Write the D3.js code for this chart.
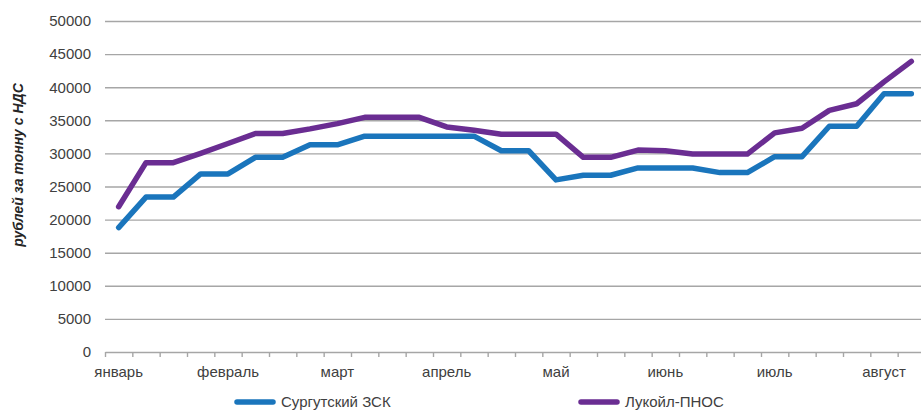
<!DOCTYPE html>
<html lang="ru">
<head>
  <meta charset="UTF-8">
  <title>Цены на топливо</title>
  <script src="https://d3js.org/d3.v7.min.js"></script>
  <style>
    body {
      margin: 0;
      background: white;
      font-family: 'Liberation Sans', Arial, sans-serif;
    }
    svg { display: block; }
    .axis text { font-size: 15px; fill: #404040; font-family: 'Liberation Sans', Arial, sans-serif; }
    .grid line { stroke: #a6a6a6; stroke-width: 1.4; }
    .xaxis line, .xaxis path { stroke: #a6a6a6; stroke-width: 1.4; }
  </style>
</head>
<body>
  <div id="chart"></div>

  <script>
    // weekly points, month label on the first week of each month
    const weeks = [
      "январь", "", "", "",
      "февраль", "", "", "",
      "март", "", "", "",
      "апрель", "", "", "",
      "май", "", "", "",
      "июнь", "", "", "",
      "июль", "", "", "",
      "август", ""
    ];
    const surgut = [18800, 23400, 23400, 26900, 26900, 29400, 29400, 31300, 31300, 32600,
                    32600, 32600, 32600, 32600, 30400, 30400, 26000, 26700, 26700, 27800,
                    27800, 27800, 27100, 27100, 29500, 29500, 34100, 34100, 39000, 39000];
    const lukoil = [21950, 28600, 28600, 30000, 31500, 33000, 33000, 33700, 34500, 35450,
                    35450, 35450, 34000, 33500, 32900, 32900, 32900, 29400, 29400, 30500,
                    30400, 29900, 29900, 29900, 33100, 33800, 36500, 37500, 40800, 43900];
    const yTicks = [0, 5000, 10000, 15000, 20000, 25000, 30000, 35000, 40000, 45000, 50000];
    const seriesNames = ["Сургутский ЗСК", "Лукойл-ПНОС"];
    const colors = ["#1a75bc", "#6a2d92"];

    const W = 921, H = 411;
    const m = { left: 105, right: 925, top: 21, bottom: 352 };

    const svg = d3.select("#chart").append("svg").attr("width", W).attr("height", H);

    const idx = d3.range(weeks.length);
    const x = d3.scaleBand().domain(idx).range([m.left, m.right]).paddingInner(0).paddingOuter(0);
    const xEdge = d3.scaleLinear().domain([0, weeks.length]).range([m.left, m.right]);
    const y = d3.scaleLinear().domain([0, 50000]).range([m.bottom, m.top]);

    // gridlines + y labels
    svg.append("g")
      .attr("class", "axis grid")
      .attr("transform", `translate(${m.left},0)`)
      .call(d3.axisLeft(y).tickValues(yTicks.filter(d => d > 0)).tickSize(-(m.right - m.left)).tickPadding(14).tickFormat(d3.format("d")))
      .call(g => g.select(".domain").remove());

    svg.append("g")
      .attr("class", "axis")
      .attr("transform", `translate(${m.left},0)`)
      .call(d3.axisLeft(y).tickValues([0]).tickSize(0).tickPadding(14))
      .call(g => g.select(".domain").remove());

    // x axis line and tick marks at category boundaries
    svg.append("g")
      .attr("class", "xaxis")
      .attr("transform", `translate(0,${m.bottom})`)
      .call(d3.axisBottom(xEdge).tickValues(d3.range(weeks.length + 1)).tickSize(5).tickSizeOuter(0).tickFormat(""));

    // month labels at category centres
    svg.append("g")
      .attr("class", "axis")
      .attr("transform", `translate(0,${m.bottom})`)
      .call(d3.axisBottom(x).tickSize(0).tickPadding(14).tickFormat(i => weeks[i]))
      .call(g => g.select(".domain").remove());

    // y title
    svg.append("text")
      .attr("transform", `translate(23,165) rotate(-90)`)
      .attr("text-anchor", "middle")
      .style("font-size", "14px")
      .style("font-weight", "bold")
      .style("font-style", "italic")
      .style("fill", "#262626")
      .text("рублей за тонну с НДС");

    const line = d3.line()
      .x((d, i) => x(i) + x.bandwidth() / 2)
      .y(d => y(d));

    [surgut, lukoil].forEach((s, k) => {
      svg.append("path")
        .datum(s)
        .attr("fill", "none")
        .attr("stroke", colors[k])
        .attr("stroke-width", 5.5)
        .attr("stroke-linejoin", "round")
        .attr("stroke-linecap", "round")
        .attr("d", line);
    });

    // legend
    const legendX = [237, 581];
    seriesNames.forEach((name, k) => {
      const g = svg.append("g").attr("transform", `translate(${legendX[k]},402)`);
      g.append("line")
        .attr("x1", 0).attr("x2", 36)
        .attr("stroke", colors[k]).attr("stroke-width", 5.5).attr("stroke-linecap", "round");
      g.append("text")
        .attr("x", 44).attr("y", 5)
        .style("font-size", "15px")
        .style("fill", "#404040")
        .text(name);
    });
  </script>
</body>
</html>
